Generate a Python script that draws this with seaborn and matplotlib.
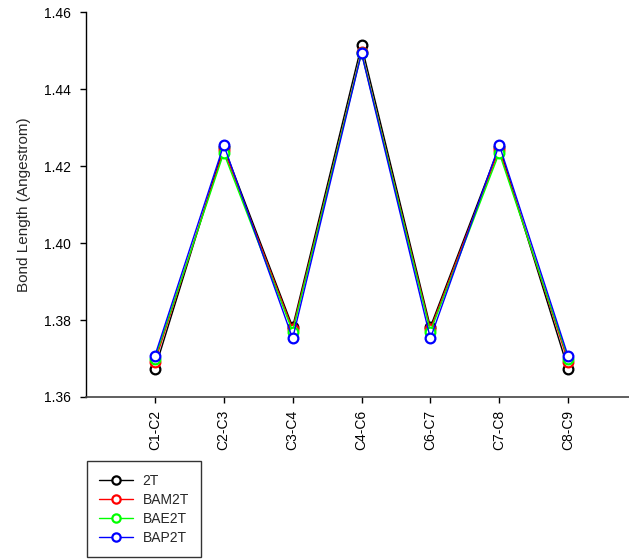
import matplotlib
matplotlib.use("Agg")
import matplotlib.pyplot as plt
import pandas as pd
import seaborn as sns

# Bond lengths (Angstrom) along the backbone for each molecule
bonds = ["C1-C2", "C2-C3", "C3-C4", "C4-C6", "C6-C7", "C7-C8", "C8-C9"]
len_2T = [1.3672, 1.4250, 1.3782, 1.4514, 1.3782, 1.4250, 1.3672]
len_BAM2T = [1.3691, 1.4242, 1.3776, 1.4495, 1.3776, 1.4242, 1.3691]
len_BAE2T = [1.3700, 1.4234, 1.3770, 1.4494, 1.3770, 1.4234, 1.3700]
len_BAP2T = [1.3707, 1.4255, 1.3752, 1.4493, 1.3752, 1.4255, 1.3706]

series = ["2T", "BAM2T", "BAE2T", "BAP2T"]
colors = ["#000000", "#ff0000", "#00ff00", "#0000ff"]

frames = []
for name, vals in zip(series, [len_2T, len_BAM2T, len_BAE2T, len_BAP2T]):
    frames.append(pd.DataFrame({"bond": bonds, "pos": range(len(bonds)),
                                "length": vals, "molecule": name}))
df = pd.concat(frames, ignore_index=True)

sns.set_style("ticks")
plt.rcParams["font.family"] = ["Liberation Sans", "DejaVu Sans"]
plt.rcParams["font.size"] = 10

fig = plt.figure(figsize=(6.29, 5.60), dpi=100)
ax = fig.add_axes([86 / 629, 1 - 397 / 560, (637 - 86) / 629, 385 / 560])

for name, col in zip(series, colors):
    sub = df[df["molecule"] == name]
    sns.lineplot(data=sub, x="pos", y="length", ax=ax, color=col,
                 linewidth=1.0, marker="o", markersize=7,
                 markerfacecolor="white", markeredgecolor=col,
                 markeredgewidth=1.6, label=name, legend=False)

ax.set_xlim(-1, 7)
ax.set_ylim(1.36, 1.46)
ax.set_yticks([1.36, 1.38, 1.40, 1.42, 1.44, 1.46])
ax.set_yticklabels(["1.36", "1.38", "1.40", "1.42", "1.44", "1.46"])
ax.set_xticks(range(len(bonds)))
ax.set_xticklabels(bonds, rotation=90)
ax.set_xlabel("")
ax.set_ylabel("Bond Length (Angestrom)", fontsize=11, labelpad=9)

for side in ["top", "right"]:
    ax.spines[side].set_visible(False)
ax.spines["left"].set_color("black")
ax.spines["bottom"].set_color("#444444")
ax.spines["left"].set_linewidth(1.0)
ax.spines["bottom"].set_linewidth(1.2)
ax.tick_params(axis="y", direction="out", length=4, width=1, pad=7,
               colors="black", labelsize=10)
ax.tick_params(axis="x", direction="out", length=4, width=1, pad=5,
               colors="black", labelsize=10)

handles, labels = ax.get_legend_handles_labels()
leg = fig.legend(handles, labels, loc="lower left",
                 bbox_to_anchor=(87 / 629, 3 / 560), borderaxespad=0,
                 frameon=True, fancybox=False, edgecolor="black",
                 handlelength=2.4, handletextpad=0.7, labelspacing=0.35,
                 borderpad=0.9, markerscale=0.85, fontsize=10)
leg.get_frame().set_linewidth(1.0)

fig.savefig("out.png", dpi=100)
